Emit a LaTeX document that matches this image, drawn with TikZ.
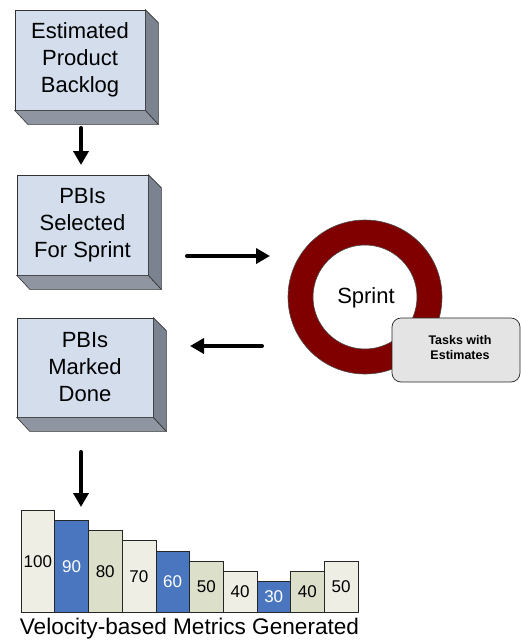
\documentclass[tikz,border=0pt]{standalone}
\usepackage{fontspec}
\setmainfont{Liberation Sans}
\usetikzlibrary{arrows.meta}
\definecolor{boxfront}{HTML}{D3DDEC}
\definecolor{boxside}{HTML}{7B8391}
\definecolor{boxbottom}{HTML}{8F96A1}
\definecolor{ringred}{HTML}{800000}
\definecolor{taskgray}{HTML}{E4E4E4}
\definecolor{barlight}{HTML}{EEEEE4}
\definecolor{bargreen}{HTML}{DCE0CB}
\definecolor{barblue}{HTML}{4A76C0}
\tikzset{
  front/.style={draw=black!80, line width=0.6pt, fill=boxfront, align=center,
    font=\fontsize{22}{27}\selectfont, inner sep=0pt},
  sideface/.style={draw=black!80, line width=0.6pt, fill=boxside},
  bottomface/.style={draw=black!80, line width=0.6pt, fill=boxbottom},
  flow/.style={line width=4pt, line cap=round, -{Triangle[width=15pt,length=14pt]}},
  bar/.style={draw=black!85, line width=0.6pt, minimum width=33.7pt, anchor=south west,
    inner sep=0pt, font=\fontsize{17}{17}\selectfont},
}
\newcommand{\depthbox}[1]{%
  \draw[bottomface] (#1.south west) -- (#1.south east) -- ([shift={(13pt,-14pt)}]#1.south east) -- ([shift={(13pt,-14pt)}]#1.south west) -- cycle;
  \draw[sideface] (#1.north east) -- ([shift={(13pt,-13pt)}]#1.north east) -- ([shift={(13pt,-14pt)}]#1.south east) -- (#1.south east) -- cycle;
}
\begin{document}
\begin{tikzpicture}[x=1pt,y=-1pt]
\useasboundingbox (0,0) rectangle (521,641);
% boxes
\node[front, minimum width=130pt, minimum height=100pt] (b1) at (80,60) {Estimated\\Product\\Backlog};
\depthbox{b1}
\node[front, minimum width=131pt, minimum height=100pt] (b2) at (82.5,225) {PBIs\\Selected\\For Sprint};
\depthbox{b2}
\node[front, minimum width=136pt, minimum height=99pt] (b3) at (85,367.5) {PBIs\\Marked\\Done};
\depthbox{b3}
% ring
\fill[ringred, even odd rule] (365,297) circle[radius=77pt] (365,297) circle[radius=52pt];
\draw[black!70, line width=0.6pt] (365,297) circle[radius=77pt];
\draw[black!70, line width=0.6pt] (365,297) circle[radius=52pt];
\node[font=\fontsize{22}{22}\selectfont] (sprint) at (366,298) {Sprint};
\node[draw=black!85, line width=0.7pt, fill=taskgray, rounded corners=9pt,
  minimum width=128pt, minimum height=64pt, inner sep=0pt] (tasks) at (456,350) {};
\node[font=\fontsize{12.5}{15}\selectfont\bfseries, align=center] (taskstxt) at (460,348) {Tasks with\\Estimates};
% arrow anchors
\coordinate (a1s) at (81,128);
\coordinate (a1e) at (81,165);
\coordinate (a2s) at (187,256);
\coordinate (a2e) at (270,256);
\coordinate (a3s) at (262,346);
\coordinate (a3e) at (190,346);
\coordinate (a4s) at (81,452);
\coordinate (a4e) at (81,507);
\draw[flow] (a1s) -- (a1e);
\draw[flow] (a2s) -- (a2e);
\draw[flow] (a3s) -- (a3e);
\draw[flow] (a4s) -- (a4e);
% bars
\node[bar, fill=barlight, minimum height=102.5pt] (c1) at (20.7,612.7) {100};
\node[bar, fill=barblue, text=white, minimum height=92.3pt] (c2) at (54.4,612.7) {90};
\node[bar, fill=bargreen, minimum height=82pt] (c3) at (88.1,612.7) {80};
\node[bar, fill=barlight, minimum height=71.8pt] (c4) at (121.8,612.7) {70};
\node[bar, fill=barblue, text=white, minimum height=61.5pt] (c5) at (155.5,612.7) {60};
\node[bar, fill=bargreen, minimum height=51.3pt] (c6) at (189.2,612.7) {50};
\node[bar, fill=barlight, minimum height=41pt] (c7) at (222.9,612.7) {40};
\node[bar, fill=barblue, text=white, minimum height=30.8pt] (c8) at (256.6,612.7) {30};
\node[bar, fill=bargreen, minimum height=41pt] (c9) at (290.3,612.7) {40};
\node[bar, fill=barlight, minimum height=51.3pt] (c10) at (324,612.7) {50};
\node[font=\fontsize{22.6}{22.6}\selectfont] (title) at (189.5,629) {Velocity-based Metrics Generated};
\end{tikzpicture}
\end{document}
